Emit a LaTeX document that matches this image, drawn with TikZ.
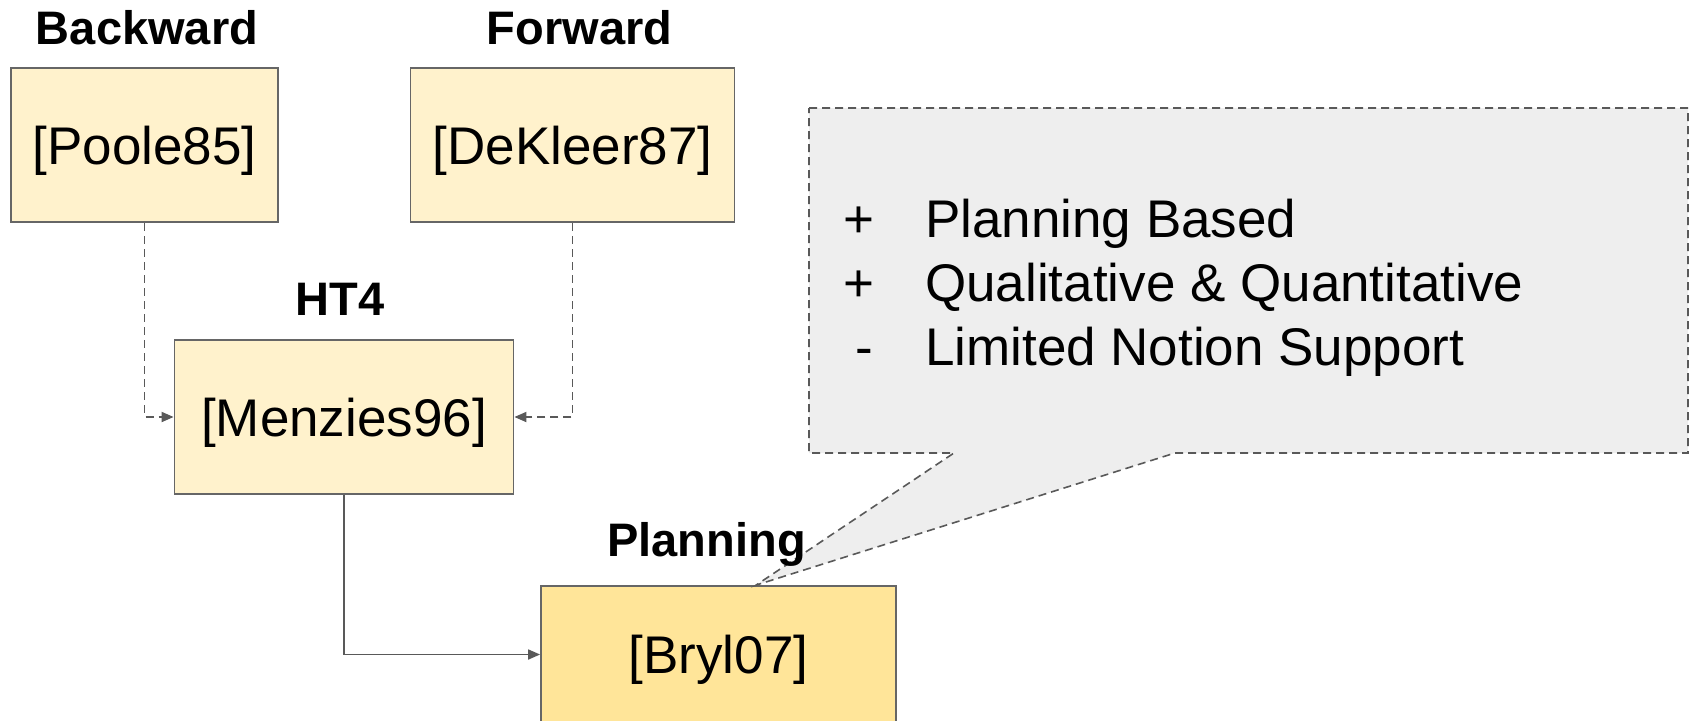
\documentclass[tikz,border=0pt]{standalone}
\usepackage{fontspec}
\setmainfont{Liberation Sans}
\usetikzlibrary{arrows.meta}
\definecolor{boxfill}{HTML}{FFF2CC}
\definecolor{hotfill}{HTML}{FFE599}
\definecolor{edgegray}{HTML}{666666}
\definecolor{linkgray}{HTML}{595959}
\definecolor{notefill}{HTML}{EEEEEE}
\begin{document}
\begin{tikzpicture}[x=1pt,y=-1pt,
  refbox/.style={draw=edgegray, line width=1.8pt, fill=boxfill, inner sep=0pt,
    font=\fontsize{53pt}{60pt}\selectfont, text height=38pt, text depth=0pt},
  tag/.style={font=\fontsize{47pt}{56pt}\selectfont\bfseries, anchor=base, inner sep=0pt},
  notetext/.style={font=\fontsize{53pt}{60pt}\selectfont, inner sep=0pt},
  link/.style={draw=linkgray, line width=1.8pt, -{Triangle[length=12pt,width=10pt]}},
  dashlink/.style={link, dash pattern=on 8pt off 5pt},
  notebox/.style={draw=linkgray, line width=1.6pt, fill=notefill, dash pattern=on 8pt off 5pt}]
\useasboundingbox (0,0) rectangle (1691,720);
\clip (0,0) rectangle (1691,720);

% reference boxes
\node[refbox, minimum width=267pt, minimum height=154pt] (poole)   at (144.5,145.3) {[Poole85]};
\node[refbox, minimum width=324pt, minimum height=154pt] (dekleer) at (572.5,145.3) {[DeKleer87]};
\node[refbox, minimum width=339pt, minimum height=154pt] (menzies) at (344,417)     {[Menzies96]};
\node[refbox, fill=hotfill, minimum width=355pt, minimum height=137pt] (bryl) at (718.5,654.5) {[Bryl07]};

% callout with the pros and cons
\coordinate (tip) at ([xshift=216pt]bryl.north west);
\draw[notebox] (809,108) -- (1688,108) -- (1688,453) -- (1175,453) -- (tip) -- (954,453) -- (809,453) -- cycle;
\node[notetext, anchor=base] (b1) at (859,237) {+};
\node[notetext, anchor=base] (b2) at (859,301) {+};
\node[notetext, anchor=base] (b3) at (864,365) {-};
\node[notetext, anchor=base west] (t1) at (925,237) {Planning Based};
\node[notetext, anchor=base west] (t2) at (925,301) {Qualitative \& Quantitative};
\node[notetext, anchor=base west] (t3) at (925,365) {Limited Notion Support};

% headings
\node[tag] (lback) at (147,44.3)   {Backward};
\node[tag] (lfwd)  at (579.5,44.3) {Forward};
\node[tag] (lht)   at (340,315.7)  {HT4};
\node[tag] (lplan) at (706.5,556)  {Planning};

% connectors
\draw[dashlink] (poole.south) |- (menzies.west);
\draw[dashlink] (dekleer.south) |- (menzies.east);
\draw[link] (menzies.south) |- (bryl.west);
\end{tikzpicture}
\end{document}
